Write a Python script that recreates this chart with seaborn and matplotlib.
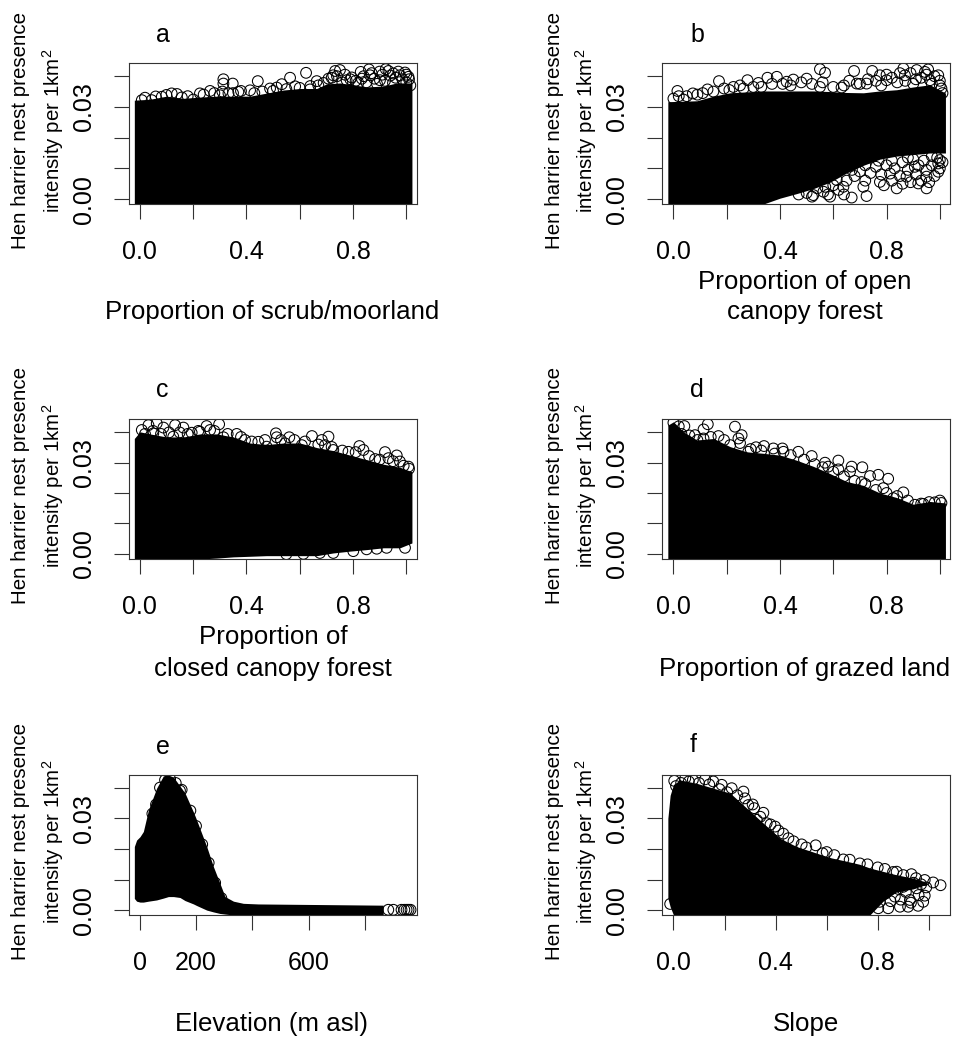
import numpy as np
import pandas as pd
import matplotlib
matplotlib.use('Agg')
import matplotlib.pyplot as plt
import seaborn as sns

# solid part of each cloud: x, lower edge, upper edge
a_x = [-.02, .039, .101, .164, .226, .289, .351, .414, .476, .539, .601, .664, .701, .751, .801, .851, .914, .964, 1.021]
a_lo = [-.0016] * 19
a_hi = [.0322, .0325, .0335, .0328, .0332, .0335, .0335, .0335, .0345, .0355, .0360, .0360, .0375, .0378, .0372, .0365, .0368, .0378, .0378]
# rings that stand out of the cloud
a_px = [.314, .314, .349, .443, .624, .564, .533, .664, .733, .751, .829, .860, .923, .933, .995, .864, .901, .795, .120, .083, .226, .264, .333, .370, .414, .008, .045, .158, .201, .301, .489, .514, .583, .639, .708, .726, .776, .951, 1.008, .976, .833,
        .02, .06, .10, .14, .18, .24, .28, .31, .35, .38, .43, .46, .50, .55, .60, .64, .67, .69,
        .72, .74, .77, .79, .81, .84, .85, .87, .88, .89, .91, .92, .94, .95, .96, .97, .985, 1.0, 1.0, 1.01, 1.015, .90, .82, .76]
a_py = [.0390, .0376, .0376, .0384, .0411, .0395, .0374, .0384, .0417, .0420, .0414, .0422, .0423, .0417, .0412, .0403, .0387, .0396, .0344, .0333, .0344, .0352, .0344, .0349, .0354, .0322, .0322, .0331, .0324, .0338, .0360, .0363, .0367, .0357, .0392, .0403, .0387, .0409, .0398, .0403, .0392,
        .0330, .0334, .0339, .0342, .0335, .0340, .0345, .0350, .0345, .0352, .0345, .0350, .0352, .0358, .0362, .0368, .0370, .0378,
        .0395, .0400, .0405, .0390, .0385, .0400, .0380, .0410, .0392, .0375, .0405, .0385, .0402, .0378, .0395, .0415, .0390, .0405, .0380, .0390, .0370, .0415, .0378, .0380]

b_x = [-.021, .088, .15, .213, .338, .4, .463, .525, .588, .65, .713, .775, .838, .9, .963, 1.021]
b_lo = [-.0016, -.0016, -.0016, -.0016, -.0016, .0003, .0018, .0034, .0055, .0085, .0110, .0130, .0140, .0145, .0150, .0150]
b_hi = [.0317, .0320, .0335, .0346, .0352, .0352, .0352, .0352, .0350, .0347, .0346, .0352, .0356, .0365, .0372, .0345]
b_px = [0, .015, .038, .073, .128, .171, .225, .278, .319, .353, .388, .45, .5, .55, .569, .678, .746, .775, .863, .913, .956, .869, .944, .994, 1.006, .688, .631, .425, .55, .263, .8, .963, .725,
        .95, .838, .725, .669, .588, .919, .994, .994, 1.0, .906, .775, .713, .638, .813, .875, .95, .563, .525, .613,
        .02, .05, .09, .11, .15, .19, .21, .25, .30, .33, .37, .41, .44, .48, .52, .56, .60, .64, .66, .70, .73, .76, .78, .82, .84, .87, .89, .90, .93, .95, .97, .98, 1.0, 1.01, 1.0, .91, .85, .80,
        .62, .65, .68, .70, .72, .74, .76, .78, .79, .80, .82, .83, .85, .86, .86, .88, .89, .90, .91, .92, .93, .94, .95, .96, .97, .98, .99, 1.0, 1.01, .97, .88, .82, .77, .72, .67, .60, .57, .54, .50, .47, .52, .58, .64]
b_py = [.0327, .0352, .0324, .0344, .0357, .0384, .0365, .0387, .0378, .0395, .0398, .0389, .0392, .0423, .0411, .0417, .0417, .0403, .0425, .0420, .0422, .0403, .0414, .0403, .0360, .0376, .0363, .0382, .0365, .0360, .0387, .0387, .0376,
        .0035, .0035, .0010, .0005, .0008, .0051, .0089, .0116, .0127, .0105, .0056, .0040, .0040, .0083, .0073, .0073, .0024, .0013, .0062,
        .0335, .0335, .0340, .0345, .0350, .0360, .0355, .0370, .0365, .0365, .0375, .0375, .0370, .0380, .0375, .0380, .0365, .0370, .0385, .0375, .0390, .0385, .0370, .0395, .0380, .0385, .0410, .0375, .0395, .0405, .0375, .0400, .0385, .0345, .0370, .0390, .0410, .0405,
        .0030, .0060, .0075, .0090, .0060, .0085, .0105, .0080, .0045, .0110, .0060, .0100, .0075, .0120, .0050, .0095, .0055, .0130, .0080, .0110, .0060, .0125, .0095, .0055, .0110, .0075, .0135, .0100, .0120, .0140, .0135, .0125, .0125, .0110, .0095, .0045, .0040, .0035, .0020, .0015, .0008, .0015, .0015]

c_x = [-.02, .001, .039, .101, .164, .226, .289, .351, .414, .476, .539, .601, .664, .726, .789, .851, .914, .976, 1.021]
c_lo = [-.0018, -.0018, -.0018, -.0018, -.0018, -.0018, -.0015, -.0011, -.0009, -.0007, -.0007, -.0007, -.0007, .0002, .0008, .0013, .0019, .0019, .0035]
c_hi = [.0380, .0402, .0395, .0385, .0385, .0395, .0395, .0385, .0365, .0360, .0365, .0365, .0350, .0340, .0325, .0310, .0295, .0285, .0270]
c_px = [.008, .033, .064, .089, .133, .164, .195, .251, .264, .298, .314, .364, .395, .445, .511, .514, .561, .545, .646, .708, .683, .695, .726, .783, .824, .839, .883, .92, .964, .933, .976, 1.008, .608, .476, .226, .126, .051,
        .851, .801, .726, .676, .889, .926, .995, .614, .55,
        .02, .05, .08, .11, .15, .18, .22, .28, .33, .38, .42, .47, .53, .58, .62, .67, .72, .76, .81, .86, .90, .95, .99, 1.01]
c_py = [.0408, .0424, .0430, .0416, .0424, .0416, .0399, .0421, .0408, .0427, .0384, .0395, .0375, .0369, .0397, .0384, .0384, .0364, .0388, .0386, .0375, .0358, .0342, .0336, .0355, .0342, .0312, .0335, .0324, .0315, .0304, .0287, .0358, .0353, .0402, .0386, .0397,
        .0014, .0008, .0002, .0002, .0016, .0019, .0019, -.0001, -.0002,
        .0395, .0405, .0395, .0400, .0400, .0395, .0405, .0405, .0395, .0385, .0370, .0375, .0375, .0375, .0370, .0360, .0352, .0340, .0335, .0322, .0310, .0305, .0290, .0280]

d_x = [-.021, 0, .038, .088, .15, .213, .275, .338, .4, .463, .525, .588, .65, .713, .775, .838, .9, .963, 1.021]
d_lo = [-.0018] * 19
d_hi = [.0424, .0435, .0402, .0375, .0380, .0353, .0336, .0331, .0325, .0308, .0288, .0264, .0238, .0225, .0200, .0185, .0163, .0172, .0167]
d_px = [0, .041, .081, .113, .129, .169, .231, .244, .256, .213, .281, .31, .34, .375, .409, .469, .519, .569, .619, .581, .669, .709, .663, .738, .769, .806, .706, .788, .863, .825, .906, .938, .981, 1.006, .113, .619, .413,
        .02, .03, .06, .09, .14, .19, .25, .29, .33, .38, .44, .49, .53, .56, .60, .64, .68, .72, .76, .80, .84, .88, .93, .96, 1.0]
d_py = [.0432, .0421, .0391, .0410, .0427, .0388, .0419, .0380, .0391, .0358, .0336, .0351, .0355, .0347, .0347, .0336, .0322, .0300, .0307, .0287, .0287, .0285, .0271, .0256, .0260, .0247, .0236, .0216, .0202, .0183, .0161, .0164, .0169, .0167, .0380, .0278, .0336,
        .0420, .0395, .0390, .0375, .0385, .0375, .0365, .0345, .0340, .0330, .0325, .0310, .0295, .0285, .0270, .0255, .0240, .0230, .0210, .0200, .0190, .0175, .0165, .0170, .0175]

e_x = [-19, -11, 1, 13, 31, 60, 84, 102, 120, 143, 161, 191, 202, 238, 262, 285, 303, 333, 368, 421, 865]
e_lo = [.0039, .0030, .0027, .0027, .0030, .0034, .0040, .0045, .0045, .0042, .0032, .0021, .0016, .0001, -.0005, -.0010, -.0012, -.0015, -.0015, -.0015, -.0015]
e_hi = [.0208, .0229, .0240, .0257, .0327, .0398, .0438, .0441, .0434, .0405, .0382, .0320, .0295, .0208, .0142, .0088, .0045, .0030, .0023, .0021, .0017]
e_px = [72, 108, 149, 143, 45, 58, 180, 200, 222, 245, 268, 290, 128, 90,
        883, 901, 930, 940, 948, 955, 962]
e_py = [.0400, .0428, .0393, .0390, .0315, .0345, .0325, .0275, .0215, .0155, .0090, .0040, .0415, .0425,
        .0002, .0002, .0002, .0002, .0002, .0002, .0002]

f_x = [-.022, -.013, 0, .026, .091, .156, .222, .287, .352, .417, .482, .548, .613, .678, .73, .769, .821, .873, .939, .991]
f_lo = [.0040, .0012, -.0015, -.0015, -.0015, -.0015, -.0015, -.0015, -.0015, -.0015, -.0015, -.0015, -.0015, -.0015, -.0015, -.0015, .0030, .0060, .0070, .0085]
f_hi = [.0300, .0375, .0410, .0425, .0414, .0398, .0382, .0333, .0284, .0235, .0208, .0190, .0172, .0160, .0150, .0138, .0127, .0116, .0105, .0092]
f_px = [.003, .046, .076, .124, .156, .189, .228, .274, .293, .316, .352, .326, .365, .398, .411, .45, .502, .557, .584, .665, .73, .828, .874, .932, .984, 1.017, 1.046, .984, .978, .958, .919, .887, .926, .867, .841, .808, .9, .952, .802, -.013,
        .01, .03, .06, .10, .14, .18, .21, .25, .28, .31, .34, .38, .43, .47, .52, .60, .63, .69, .76, .80, .86, .90, .95,
        .80, .83, .85, .88, .89, .91, .94, .96, .97, .99, .93, .86, .82, .78]
f_py = [.0422, .0430, .0425, .0427, .0420, .0409, .0398, .0387, .0343, .0333, .0318, .0295, .0284, .0273, .0260, .0235, .0215, .0212, .0186, .0166, .0153, .0135, .0126, .0118, .0099, .0091, .0082, .0048, .0028, .0015, .0012, .0012, .0034, .0045, .0007, .0028, .0077, .0072, .0007, .0021,
        .0405, .0415, .0420, .0415, .0410, .0395, .0385, .0375, .0365, .0345, .0305, .0280, .0250, .0225, .0205, .0190, .0180, .0165, .0150, .0140, .0125, .0115, .0105,
        .0045, .0055, .0030, .0070, .0035, .0060, .0090, .0050, .0085, .0075, .0025, .0085, .0080, .0045]

y_ticks = [0, .01, .02, .03, .04]
y_tick_labels = ['0.00', '', '', '0.03', '']
prop_ticks = [0, .2, .4, .6, .8, 1.0]
prop_labels = ['0.0', '', '0.4', '', '0.8', '']
elev_ticks = [0, 200, 400, 600, 800]
elev_labels = ['0', '200', '', '600', '']

sns.set_theme(style='ticks')
plt.rcParams['font.family'] = ['Liberation Sans', 'DejaVu Sans']
plt.rcParams['mathtext.default'] = 'regular'
plt.rcParams['text.color'] = 'black'

W, H = 954, 1039
fig = plt.figure(figsize=(9.54, 10.39), dpi=100)

panels = [
    ('a', a_x, a_lo, a_hi, a_px, a_py, (129, 417, 63, 204), (-.04, 1.04), (-.0016, .0443), prop_ticks, prop_labels, 163, 35),
    ('b', b_x, b_lo, b_hi, b_px, b_py, (662.5, 950.5, 63, 204), (-.041, 1.04), (-.0016, .0443), prop_ticks, prop_labels, 697, 35),
    ('c', c_x, c_lo, c_hi, c_px, c_py, (129, 417, 418.5, 559), (-.04, 1.04), (-.0018, .0446), prop_ticks, prop_labels, 162, 390),
    ('d', d_x, d_lo, d_hi, d_px, d_py, (662.5, 950.5, 418.5, 559), (-.041, 1.04), (-.0018, .0446), prop_ticks, prop_labels, 697, 390),
    ('e', e_x, e_lo, e_hi, e_px, e_py, (129, 417, 775, 915), (-38, 985), (-.0015, .0441), elev_ticks, elev_labels, 163, 747),
    ('f', f_x, f_lo, f_hi, f_px, f_py, (662.5, 950.5, 775, 915), (-.043, 1.085), (-.0015, .0441), prop_ticks, prop_labels, 693, 745),
]

for name, bx, lo, hi, px, py, box, xlim, ylim, xt, xtl, tx, ty in panels:
    ax = fig.add_axes([box[0] / W, 1 - box[3] / H, (box[1] - box[0]) / W, (box[3] - box[2]) / H])
    ax.fill_between(bx, lo, hi, color='black', lw=0)
    rings = pd.DataFrame({'x': px, 'y': py})
    sns.scatterplot(data=rings, x='x', y='y', ax=ax, s=60, facecolor='none', edgecolor='black', linewidth=0.75)
    ax.set_xlim(xlim)
    ax.set_ylim(ylim)
    ax.set_xticks(xt)
    ax.set_xticklabels(xtl, fontsize=18, color='black')
    ax.set_yticks(y_ticks)
    ax.set_yticklabels(y_tick_labels, fontsize=18, rotation=90, va='center', color='black')
    ax.tick_params(axis='x', length=11, width=0.8, color='#333333', pad=15)
    ax.tick_params(axis='y', length=11, width=0.8, color='#333333', pad=13)
    ax.set_xlabel('')
    ax.set_ylabel('')
    for sp in ax.spines.values():
        sp.set_linewidth(0.8)
        sp.set_color('#333333')
    fig.text(tx / W, 1 - ty / H, name, fontsize=18, ha='center', va='center')
    off = box[0] - 129
    mid = (box[2] + box[3]) / 2 - 3
    fig.text((21 + off) / W, 1 - mid / H, 'Hen harrier nest presence', fontsize=14.8, rotation=90, ha='center', va='center')
    fig.text((53 + off) / W, 1 - mid / H, 'intensity per 1km$^{2}$', fontsize=14.8, rotation=90, ha='center', va='center')

x_labels = [
    ('Proportion of scrub/moorland', 272, 312),
    ('Proportion of open', 805, 282),
    ('canopy forest', 805, 312),
    ('Proportion of', 273, 637),
    ('closed canopy forest', 273, 669),
    ('Proportion of grazed land', 805, 669),
    ('Elevation (m asl)', 272, 1024),
    ('Slope', 806, 1024),
]
for txt, x, y in x_labels:
    fig.text(x / W, 1 - y / H, txt, fontsize=18.6, ha='center', va='center')

plt.savefig('out.png', dpi=100)
